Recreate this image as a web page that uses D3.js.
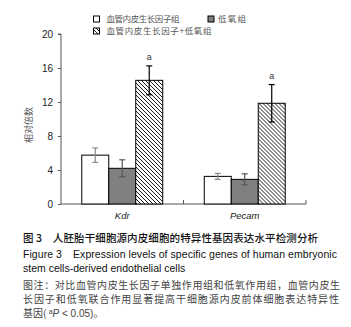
<!DOCTYPE html>
<html><head><meta charset="utf-8">
<script src="https://cdn.jsdelivr.net/npm/d3@7"></script>
<style>html,body{margin:0;padding:0;background:#fff;}svg{display:block;}</style>
</head><body>
<script>
const categories = ["Kdr", "Pecam"];
const seriesNames = ["血管内皮生长因子组", "低氧组", "血管内皮生长因子+低氧组"];
const means = [[5.75, 4.2, 14.55], [3.25, 2.9, 11.85]];
const errors = [[0.85, 1.0, 1.7], [0.35, 0.65, 2.2]];
const sigLabels = [["", "", "a"], ["", "", "a"]];
const yTicks = [0, 4, 8, 12, 16, 20];
const yLabel = "相对倍数";
const captionLines = [
  "图 3　人胚胎干细胞源内皮细胞的特异性基因表达水平检测分析",
  "Figure 3　Expression levels of specific genes of human embryonic",
  "stem cells-derived endothelial cells",
  "图注：对比血管内皮生长因子单独作用组和低氧作用组，血管内皮生",
  "长因子和低氧联合作用显著提高干细胞源内皮前体细胞表达特异性",
  "基因( ",
];

const W = 351, H = 327;
const svg = d3.select("body").append("svg").attr("width", W).attr("height", H);
svg.append("rect").attr("width", W).attr("height", H).attr("fill", "#fff");

const defs = svg.append("defs");
const pat = defs.append("pattern").attr("id", "hatch").attr("patternUnits", "userSpaceOnUse")
  .attr("width", 4).attr("height", 4);
pat.append("rect").attr("width", 4).attr("height", 4).attr("fill", "#fff");
pat.append("path").attr("d", "M-1,-1 L5,5 M-1,3 L1,5 M3,-1 L5,1").attr("stroke", "#000").attr("stroke-width", 0.9);

const fills = ["#fff", "#808080", "url(#hatch)"];
const errColors = ["#8a8a8a", "#555", "#000"];

const x0 = d3.scaleBand().domain(categories).range([61, 306]).paddingInner(0).paddingOuter(0);
const x1 = d3.scaleBand().domain(d3.range(seriesNames.length)).range([0, x0.bandwidth()]).paddingInner(0).paddingOuter(0.77);
const y = d3.scaleLinear().domain([0, 20]).range([204, 34]);

const axisColor = "#555";
// Y axis
const yAxis = svg.append("g").attr("transform", "translate(61,0)")
  .call(d3.axisLeft(y).tickValues(yTicks).tickSize(3).tickPadding(5));
yAxis.select(".domain").attr("stroke", axisColor).attr("d", `M-3,${y(20)}H0V${y(0)}`);
yAxis.selectAll(".tick line").attr("stroke", axisColor);
yAxis.selectAll(".tick text").attr("font-family", "Liberation Sans, Arial, sans-serif").attr("font-size", 10).attr("fill", "#222");

// X axis
const xg = svg.append("g").attr("transform", "translate(0,204)");
xg.append("line").attr("x1", 61).attr("x2", 306).attr("stroke", axisColor);
const bounds = [x0(categories[1]), x0(categories[1]) + x0.bandwidth()];
xg.selectAll(".xt").data(bounds).join("line").attr("x1", d => d).attr("x2", d => d)
  .attr("y1", 0).attr("y2", -4).attr("stroke", axisColor);
xg.selectAll(".xl").data(categories).join("text")
  .attr("x", d => x0(d) + x0.bandwidth() / 2).attr("y", 15)
  .attr("text-anchor", "middle").attr("font-family", "Liberation Sans, Arial, sans-serif")
  .attr("font-style", "italic").attr("font-size", 9.5).attr("fill", "#222").text(d => d);

// Bars
const groups = svg.selectAll(".grp").data(categories).join("g")
  .attr("transform", d => `translate(${x0(d)},0)`);
groups.each(function(cat, ci) {
  const g = d3.select(this);
  means[ci].forEach((v, si) => {
    const bx = x1(si), bw = x1.bandwidth();
    g.append("rect").attr("x", bx).attr("y", y(v)).attr("width", bw).attr("height", y(0) - y(v))
      .attr("fill", fills[si]).attr("stroke", "#000").attr("stroke-width", 1);
    const cx = bx + bw / 2, e = errors[ci][si];
    const ec = errColors[si];
    g.append("line").attr("x1", cx).attr("x2", cx).attr("y1", y(v + e)).attr("y2", y(v - e)).attr("stroke", ec).attr("stroke-width", 1.2);
    g.append("line").attr("x1", cx - 3).attr("x2", cx + 3).attr("y1", y(v + e)).attr("y2", y(v + e)).attr("stroke", ec).attr("stroke-width", 1.2);
    g.append("line").attr("x1", cx - 3).attr("x2", cx + 3).attr("y1", y(v - e)).attr("y2", y(v - e)).attr("stroke", ec).attr("stroke-width", 1.2);
    if (sigLabels[ci][si]) {
      g.append("text").attr("x", cx).attr("y", y(v + e) - 6).attr("text-anchor", "middle")
        .attr("font-family", "Liberation Sans, Arial, sans-serif").attr("font-size", 9).attr("fill", "#333")
        .text(sigLabels[ci][si]);
    }
  });
});

// Y label
svg.append("text").attr("transform", "translate(32,125) rotate(-90)").attr("text-anchor", "middle")
  .attr("font-family", "Noto Sans CJK SC").attr("font-size", 9).attr("fill", "#555").text(yLabel);

// Legend
const legendPos = [[93.5, 19, 106.5, 73], [208, 19, 218, 28], [93.5, 31, 106.5, 105]];
seriesNames.forEach((name, i) => {
  const [bx, by, tx, tl] = legendPos[i];
  svg.append("rect").attr("x", bx).attr("y", by - 3).attr("width", 6).attr("height", 6)
    .attr("fill", i === 2 ? "url(#hatch)" : fills[i]).attr("stroke", "#000").attr("stroke-width", 1);
  svg.append("text").attr("x", tx).attr("y", by + 3.2).attr("font-family", "Noto Sans CJK SC")
    .attr("font-size", 8.5).attr("fill", "#555").attr("textLength", tl).attr("lengthAdjust", "spacing").text(name);
});

// Caption
const cap = [
  {t: captionLines[0], y: 242, w: 295, f: "Noto Sans CJK SC", s: 10.5, wt: 500, c: "#111"},
  {t: captionLines[1], y: 257.5, w: 314, f: "Liberation Sans, Arial, sans-serif", s: 10.5, wt: "normal", c: "#111"},
  {t: captionLines[2], y: 272, w: null, f: "Liberation Sans, Arial, sans-serif", s: 10.5, wt: "normal", c: "#111"},
  {t: captionLines[3], y: 289, w: 317, f: "Noto Sans CJK SC", s: 10, wt: "normal", c: "#444"},
  {t: captionLines[4], y: 303, w: 316, f: "Noto Sans CJK SC", s: 10, wt: "normal", c: "#444"},
];
cap.forEach(d => {
  const t = svg.append("text").attr("x", 23).attr("y", d.y).attr("font-family", d.f).attr("font-size", d.s)
    .attr("font-weight", d.wt).attr("fill", d.c).text(d.t);
  if (d.w) t.attr("textLength", d.w).attr("lengthAdjust", "spacing");
});
const last = svg.append("text").attr("x", 23).attr("y", 317).attr("font-size", 10).attr("fill", "#444")
  .attr("font-family", "Noto Sans CJK SC").attr("xml:space", "preserve").style("white-space", "pre");
last.append("tspan").text(captionLines[5]);
last.append("tspan").attr("font-size", 7).attr("dy", -3).attr("font-family", "Liberation Sans, Arial").text("a");
last.append("tspan").attr("dy", 3).attr("font-style", "italic").attr("font-family", "Liberation Sans, Arial").text("P");
last.append("tspan").attr("font-family", "Liberation Sans, Arial").text(" < 0.05)");
last.append("tspan").text("。");
</script>
</body></html>
